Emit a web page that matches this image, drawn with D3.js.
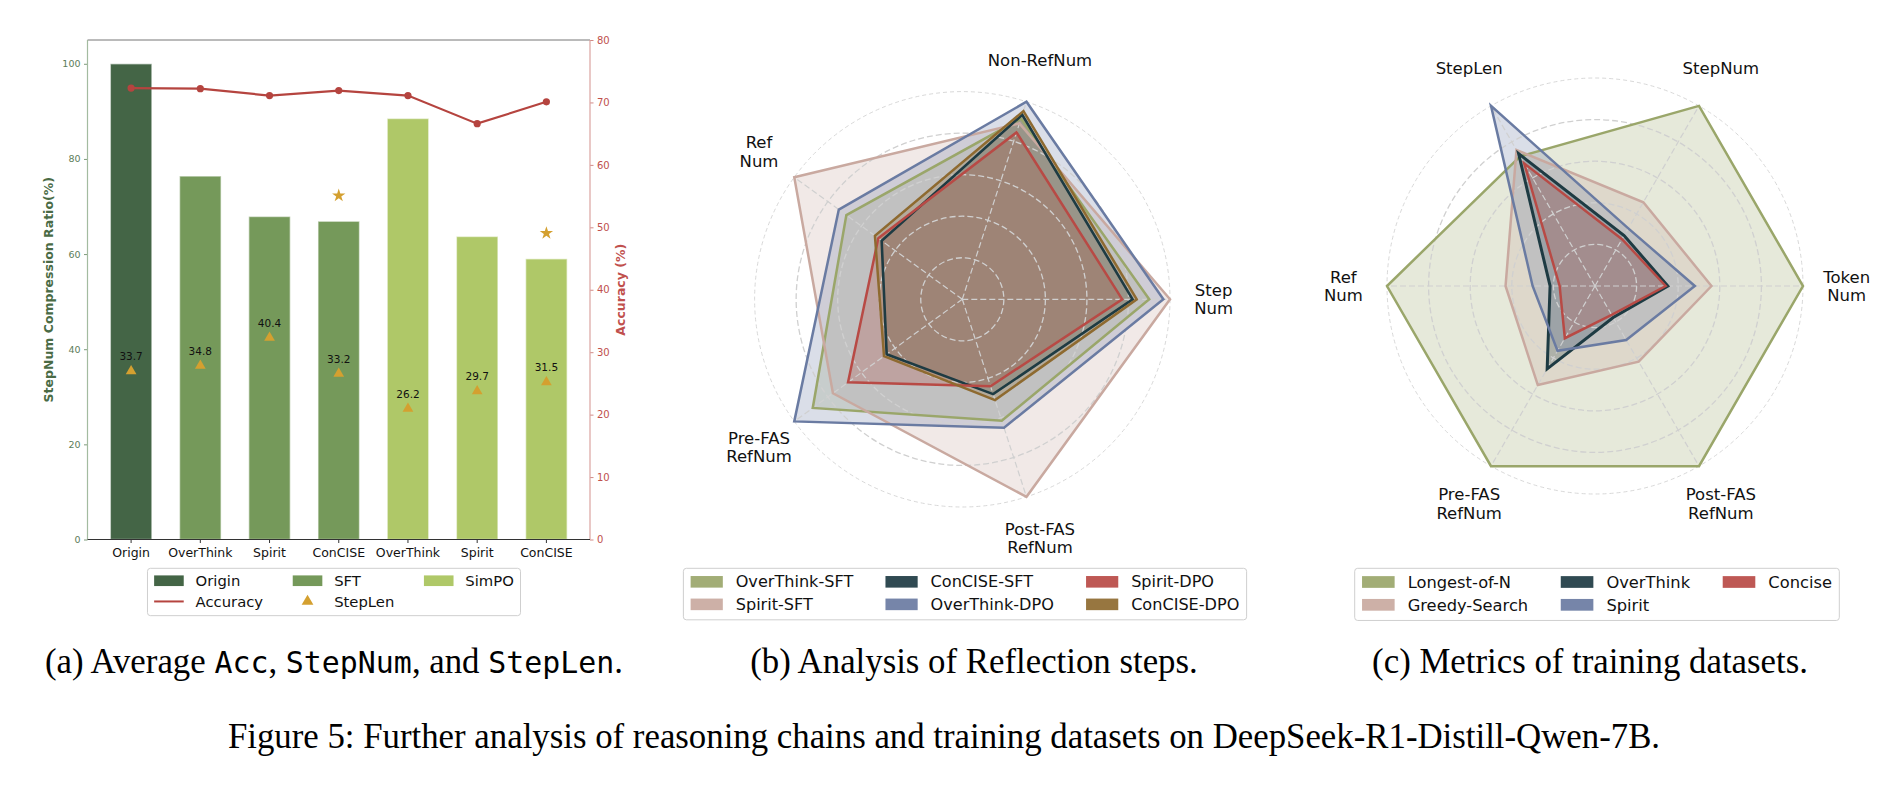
<!DOCTYPE html>
<html>
<head>
<meta charset="utf-8">
<script src="https://cdn.jsdelivr.net/npm/d3@7"></script>
<style>
  body { margin: 0; background: #fff; }
  svg { display: block; font-family: "DejaVu Sans", sans-serif; }
</style>
</head>
<body>
<svg id="fig" width="1890" height="792"></svg>
<script>
// (a) step-number compression ratio (bars), accuracy (line), step length (triangles)
const methods = ["Origin", "OverThink", "Spirit", "ConCISE", "OverThink", "Spirit", "ConCISE"];
const groups = ["Origin", "SFT", "SFT", "SFT", "SimPO", "SimPO", "SimPO"];
const stepNumRatio = [100, 76.4, 67.9, 66.9, 88.5, 63.7, 59.0];
const accuracy = [72.3, 72.2, 71.1, 71.9, 71.1, 66.6, 70.1];
const stepLen = [33.7, 34.8, 40.4, 33.2, 26.2, 29.7, 31.5];
const starred = [3, 6];
const leftTicks = [0, 20, 40, 60, 80, 100];
const rightTicks = [0, 10, 20, 30, 40, 50, 60, 70, 80];

// (b) reflection steps, each axis normalised to its max
const reflAxes = ["Step\nNum", "Non-RefNum", "Ref\nNum", "Pre-FAS\nRefNum", "Post-FAS\nRefNum"];
const reflNames = ["OverThink-SFT", "Spirit-SFT", "ConCISE-SFT", "OverThink-DPO", "Spirit-DPO", "ConCISE-DPO"];
const overThinkSFT = [0.90, 0.915, 0.69, 0.89, 0.615];
const spiritSFT = [1.0, 0.89, 1.0, 0.77, 1.0];
const conciseSFT = [0.82, 0.934, 0.48, 0.45, 0.48];
const overThinkDPO = [0.968, 1.0, 0.735, 1.0, 0.65];
const spiritDPO = [0.77, 0.845, 0.50, 0.68, 0.44];
const conciseDPO = [0.84, 0.953, 0.52, 0.466, 0.51];

// (c) training datasets
const dataAxes = ["Token\nNum", "StepNum", "StepLen", "Ref\nNum", "Pre-FAS\nRefNum", "Post-FAS\nRefNum"];
const dataNames = ["Longest-of-N", "Greedy-Search", "OverThink", "Spirit", "Concise"];
const longestOfN = [1, 1, 0.72, 1, 1, 1];
const greedySearch = [0.56, 0.465, 0.755, 0.43, 0.55, 0.42];
const overThinkData = [0.35, 0.28, 0.735, 0.216, 0.46, 0.175];
const spiritData = [0.48, 0.32, 1.0, 0.30, 0.36, 0.30];
const conciseData = [0.34, 0.26, 0.68, 0.17, 0.29, 0.16];

const groupColor = { Origin: "#446546", SFT: "#75995a", SimPO: "#afc868" };
const accColor = "#b5443f";
const gold = "#d4a030";
const reflColors = ["#9aa66a", "#c9a9a0", "#1e3b43", "#6a7ba2", "#b84a45", "#8e6a30"];
const dataColors = ["#9aa66a", "#c9a9a0", "#1e3b43", "#6a7ba2", "#b84a45"];

const svg = d3.select("#fig");

// ---------- legend, laid out like matplotlib (ncol=3, column-major)
function legend(items, cx, top, fs) {
  const g = svg.append("g");
  const ncol = 3, nrow = Math.ceil(items.length / ncol);
  const hl = 2 * fs, tp = 0.8 * fs, cs = 2 * fs, bp = 0.45 * fs;
  const box = g.append("rect");
  const texts = items.map((it) => g.append("text").attr("font-size", fs).attr("fill", "#111").text(it.label));
  const widths = texts.map((t) => t.node().getComputedTextLength());
  const colW = d3.range(ncol).map((c) =>
    d3.max(d3.range(nrow).map((r) => (c * nrow + r < items.length ? widths[c * nrow + r] : 0))));
  const total = 2 * bp + d3.sum(colW) + ncol * (hl + tp) + cs * (ncol - 1);
  const x0 = cx - total / 2;
  const rowY = (r) => top + 0.84 * fs + r * 1.4 * fs;
  let cx0 = x0 + bp;
  for (let c = 0; c < ncol; c++) {
    for (let r = 0; r < nrow; r++) {
      const i = c * nrow + r;
      if (i >= items.length) continue;
      const it = items[i], y = rowY(r);
      if (it.type === "patch") {
        g.append("rect").attr("x", cx0).attr("y", y - 0.36 * fs).attr("width", hl).attr("height", 0.72 * fs)
          .attr("fill", it.color).attr("fill-opacity", it.opacity || 1);
      } else if (it.type === "line") {
        g.append("line").attr("x1", cx0).attr("x2", cx0 + hl).attr("y1", y).attr("y2", y)
          .attr("stroke", it.color).attr("stroke-width", 2);
      } else {
        g.append("path").attr("transform", `translate(${cx0 + hl / 2},${y})`)
          .attr("d", d3.symbol(d3.symbolTriangle, 60)()).attr("fill", it.color);
      }
      texts[i].attr("x", cx0 + hl + tp).attr("y", y).attr("dy", "0.35em");
    }
    cx0 += hl + tp + colW[c] + cs;
  }
  box.attr("x", x0).attr("y", top).attr("width", total).attr("height", rowY(nrow - 1) + 0.96 * fs - top)
    .attr("rx", 3).attr("fill", "#fff").attr("fill-opacity", 0.8).attr("stroke", "#cfcfcf").attr("stroke-width", 1);
}

// ---------- panel (a)
const A = { left: 87.5, right: 590, top: 40, bottom: 539.5 };
const x = d3.scaleBand().domain(d3.range(methods.length)).range([A.left, A.right])
  .paddingInner(0.4).paddingOuter(0.33);
const yL = d3.scaleLinear().domain([0, 105]).range([A.bottom, A.top]);
const yR = d3.scaleLinear().domain([0, 80]).range([A.bottom, A.top]);
const yS = d3.scaleLinear().domain([0, 100]).range([A.bottom, A.top]);
const ga = svg.append("g");

ga.selectAll("rect.bar").data(stepNumRatio).join("rect")
  .attr("x", (d, i) => x(i)).attr("y", (d) => yL(d))
  .attr("width", x.bandwidth()).attr("height", (d) => yL(0) - yL(d))
  .attr("fill", (d, i) => groupColor[groups[i]])
  .attr("stroke", "#fff").attr("stroke-opacity", 0.55).attr("stroke-width", 1.4);

const cxA = (i) => x(i) + x.bandwidth() / 2;

// accuracy line
ga.append("path").datum(accuracy)
  .attr("d", d3.line().x((d, i) => cxA(i)).y((d) => yR(d)))
  .attr("fill", "none").attr("stroke", accColor).attr("stroke-width", 2.2);
ga.selectAll("circle.acc").data(accuracy).join("circle")
  .attr("cx", (d, i) => cxA(i)).attr("cy", (d) => yR(d)).attr("r", 3.6).attr("fill", accColor);

// step length triangles + labels
ga.selectAll("path.tri").data(stepLen).join("path")
  .attr("transform", (d, i) => `translate(${cxA(i)},${yS(d)})`)
  .attr("d", d3.symbol(d3.symbolTriangle, 50)()).attr("fill", gold);
ga.selectAll("text.sl").data(stepLen).join("text")
  .attr("x", (d, i) => cxA(i)).attr("y", (d) => yS(d) - 14.4).attr("dy", "0.35em")
  .attr("text-anchor", "middle").attr("font-size", 10.5).attr("fill", "#111")
  .text((d) => d.toFixed(1));

// stars above ConCISE bars
ga.selectAll("path.star").data(starred).join("path")
  .attr("transform", (i) => `translate(${cxA(i)},${yL(stepNumRatio[i] + 5.4)})`)
  .attr("d", d3.symbol(d3.symbolStar, 55)()).attr("fill", gold);

// axes
const axL = ga.append("g").attr("transform", `translate(${A.left},0)`)
  .call(d3.axisLeft(yL).tickValues(leftTicks).tickSize(3.5).tickPadding(3.5));
axL.select(".domain").remove();
axL.selectAll(".tick line").attr("stroke", "#7e9b7b");
axL.selectAll(".tick text").attr("fill", "#5c7d59").attr("font-size", 9.5).attr("font-family", "DejaVu Sans");

const axR = ga.append("g").attr("transform", `translate(${A.right},0)`)
  .call(d3.axisRight(yR).tickValues(rightTicks).tickSize(3.5).tickPadding(3.5));
axR.select(".domain").remove();
axR.selectAll(".tick line").attr("stroke", "#d28a86");
axR.selectAll(".tick text").attr("fill", "#c0504d").attr("font-size", 10).attr("font-family", "DejaVu Sans");

const axB = ga.append("g").attr("transform", `translate(0,${A.bottom})`)
  .call(d3.axisBottom(x).tickFormat((i) => methods[i]).tickSize(3.5).tickPadding(5));
axB.select(".domain").remove();
axB.selectAll(".tick line").attr("stroke", "#333");
axB.selectAll(".tick text").attr("fill", "#111").attr("font-size", 12.5).attr("font-family", "DejaVu Sans");

// spines
ga.append("line").attr("x1", A.left).attr("x2", A.right).attr("y1", A.top).attr("y2", A.top).attr("stroke", "#777").attr("stroke-width", 1);
ga.append("line").attr("x1", A.left).attr("x2", A.left).attr("y1", A.top).attr("y2", A.bottom).attr("stroke", "#a3bba0").attr("stroke-width", 1.2);
ga.append("line").attr("x1", A.right).attr("x2", A.right).attr("y1", A.top).attr("y2", A.bottom).attr("stroke", "#dba3a0").attr("stroke-width", 1.2);
ga.append("line").attr("x1", A.left).attr("x2", A.right).attr("y1", A.bottom).attr("y2", A.bottom).attr("stroke", "#333").attr("stroke-width", 1.2);

ga.append("text").attr("transform", `translate(48.2,${(A.top + A.bottom) / 2}) rotate(-90)`)
  .attr("text-anchor", "middle").attr("dy", "0.35em").attr("font-size", 12.5).attr("font-weight", "bold")
  .attr("fill", "#4a6b45").text("StepNum Compression Ratio(%)");
ga.append("text").attr("transform", `translate(620.7,${(A.top + A.bottom) / 2}) rotate(-90)`)
  .attr("text-anchor", "middle").attr("dy", "0.35em").attr("font-size", 12.5).attr("font-weight", "bold")
  .attr("fill", "#c0504d").text("Accuracy (%)");

legend([
  { label: "Origin", type: "patch", color: groupColor.Origin },
  { label: "Accuracy", type: "line", color: accColor },
  { label: "SFT", type: "patch", color: groupColor.SFT },
  { label: "StepLen", type: "marker", color: gold },
  { label: "SimPO", type: "patch", color: groupColor.SimPO },
], 334, 568.3, 14.8);

// ---------- radar panels
function radar(cx, cy, R, axes, series, colors, widths) {
  const g = svg.append("g").attr("transform", `translate(${cx},${cy})`);
  const n = axes.length;
  const r = d3.scaleLinear().domain([0, 1]).range([0, R]);
  const ang = (i) => (i * 2 * Math.PI) / n; // counter-clockwise from east
  const line = d3.lineRadial().angle((d, i) => Math.PI / 2 - ang(i)).radius((d) => r(d))
    .curve(d3.curveLinearClosed);

  series.forEach((s, k) => g.append("path").attr("d", line(s))
    .attr("fill", colors[k]).attr("fill-opacity", 0.25));

  // grid above fills, below lines
  [0.2, 0.4, 0.6, 0.8].forEach((v) => g.append("circle").attr("r", r(v)).attr("fill", "none")
    .attr("stroke", "#d0d0d0").attr("stroke-width", 1.3).attr("stroke-dasharray", "6,3"));
  g.append("circle").attr("r", r(1)).attr("fill", "none")
    .attr("stroke", "#d4d4d4").attr("stroke-width", 0.9).attr("stroke-dasharray", "4,3");
  axes.forEach((a, i) => g.append("line").attr("x1", 0).attr("y1", 0)
    .attr("x2", r(1) * Math.cos(ang(i))).attr("y2", -r(1) * Math.sin(ang(i)))
    .attr("stroke", "#d0d0d0").attr("stroke-width", 1.2).attr("stroke-dasharray", "6,3"));

  series.forEach((s, k) => g.append("path").attr("d", line(s)).attr("fill", "none")
    .attr("stroke", colors[k]).attr("stroke-width", widths[k]).attr("stroke-linejoin", "miter"));

  axes.forEach((a, i) => {
    const lines = a.split("\n");
    const lx = r(1.21) * Math.cos(ang(i)), ly = -r(1.21) * Math.sin(ang(i));
    const t = g.append("text").attr("text-anchor", "middle").attr("font-size", 16.5).attr("fill", "#111");
    lines.forEach((ln, j) => t.append("tspan").attr("x", lx)
      .attr("y", ly + (j - (lines.length - 1) / 2) * 18.5).attr("dy", "0.35em").text(ln));
  });
}

radar(962.3, 299.3, 207.7, reflAxes,
  [overThinkSFT, spiritSFT, conciseSFT, overThinkDPO, spiritDPO, conciseDPO],
  reflColors, [2.5, 2.5, 2.6, 2.5, 2.5, 2.5]);
legend(reflNames.map((nm, k) => ({ label: nm, type: "patch", color: reflColors[k], opacity: 0.92 })),
  965, 568.3, 16.1);

radar(1595, 286, 208, dataAxes,
  [longestOfN, greedySearch, overThinkData, spiritData, conciseData],
  dataColors, [2.5, 2.5, 3, 2.5, 2.5]);
legend(dataNames.map((nm, k) => ({ label: nm, type: "patch", color: dataColors[k], opacity: 0.92 })),
  1597, 568.3, 16.3);

// ---------- captions
const serif = "Liberation Serif";
const mono = "DejaVu Sans Mono";
function caption(cx, y, parts, fs) {
  const t = svg.append("text").attr("x", cx).attr("y", y).attr("text-anchor", "middle")
    .attr("font-family", serif).attr("font-size", fs).attr("fill", "#000");
  parts.forEach((p) => {
    const s = t.append("tspan").text(p[0]);
    if (p[1]) s.attr("font-family", mono).attr("font-size", fs * 0.86);
  });
}
caption(334, 673, [["(a) Average "], ["Acc", 1], [", "], ["StepNum", 1], [", and "], ["StepLen", 1], ["."]], 34.8);
caption(974, 673, [["(b) Analysis of Reflection steps."]], 34.8);
caption(1590, 673, [["(c) Metrics of training datasets."]], 34.8);
caption(944, 748, [["Figure 5: Further analysis of reasoning chains and training datasets on DeepSeek-R1-Distill-Qwen-7B."]], 34.8);
</script>
</body>
</html>
